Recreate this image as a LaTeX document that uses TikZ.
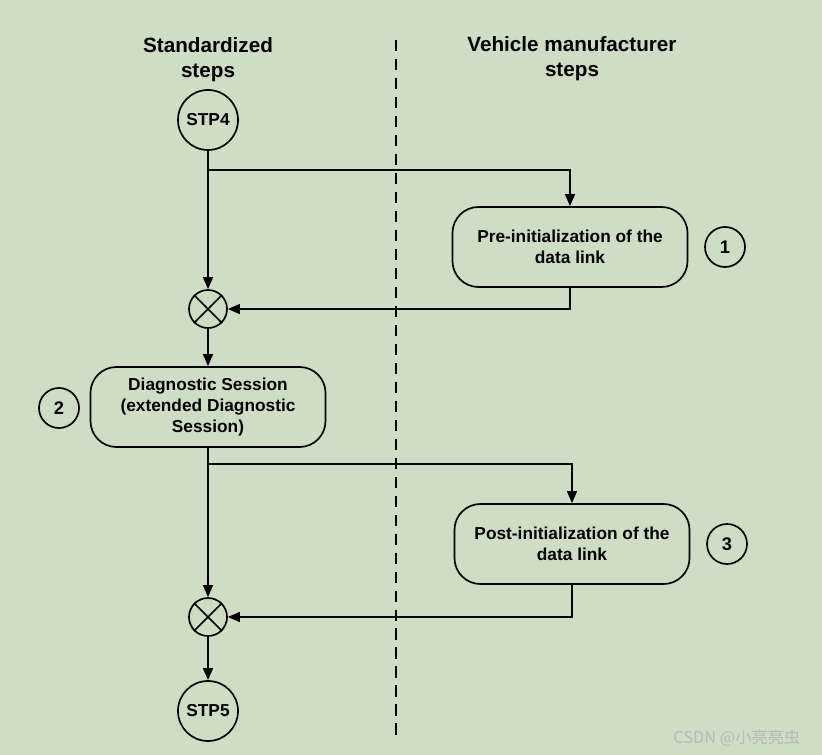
\documentclass[tikz,border=0pt]{standalone}
\usepackage{fontspec}
\setmainfont{Liberation Sans}
\newfontfamily\cjk{Noto Sans CJK SC}
\usetikzlibrary{arrows.meta}
\definecolor{bgreen}{RGB}{206,222,196}

\begin{document}
\begin{tikzpicture}[x=0.025cm, y=-0.025cm,
  line width=1.2pt,
  flow/.style={-{Triangle[length=8.5pt,width=7pt]}},
  stepbox/.style={draw, rounded corners=0.65cm, minimum width=5.875cm, minimum height=2cm,
    align=center, font=\fontsize{12.3}{15}\selectfont\bfseries},
  stpcircle/.style={draw, circle, minimum size=1.5cm, inner sep=0pt,
    font=\fontsize{12.3}{15}\selectfont\bfseries},
  numcircle/.style={draw, circle, minimum size=1cm, inner sep=0pt,
    font=\fontsize{13}{15}\selectfont\bfseries},
  merge/.style={draw, circle, minimum size=0.95cm, inner sep=0pt},
  heading/.style={align=center, inner sep=0pt, font=\fontsize{14.7}{17.8}\selectfont\bfseries}]
\useasboundingbox (0,0) rectangle (822,755);
\fill [bgreen] (0,0) rectangle (822,755);
% separator between the two columns
\draw [dash pattern=on 8pt off 5.5pt] (396,40) -- (396,735);
\node [heading] (headstd) at (208,60) {Standardized\\steps};
\node [heading] (headveh) at (572,59) {Vehicle manufacturer\\steps};
% steps
\node [stpcircle] (stp4) at (208,120) {STP4};
\node [stepbox] (pre) at (570,247) {Pre-initialization of the\\data link};
\node [numcircle] (n1) at (725,247) {1};
\node [merge] (merge1) at (208,309) {};
\node [stepbox] (diag) at (208,407) {Diagnostic Session\\(extended Diagnostic\\Session)};
\node [numcircle] (n2) at (59,408) {2};
\node [stepbox] (post) at (572,544) {Post-initialization of the\\data link};
\node [numcircle] (n3) at (727,544) {3};
\node [merge] (merge2) at (208,617) {};
\node [stpcircle] (stp5) at (208,711) {STP5};
\draw (merge1.north east) -- (merge1.south west);
\draw (merge1.north west) -- (merge1.south east);
\draw (merge2.north east) -- (merge2.south west);
\draw (merge2.north west) -- (merge2.south east);
% connectors
\coordinate (fork1) at (208,170);
\coordinate (fork2) at (208,464);
\draw [flow] (stp4) -- (merge1);
\draw [flow] (fork1) -| (pre.north);
\draw [flow] (pre.south) |- (merge1.east);
\draw [flow] (merge1) -- (diag);
\draw [flow] (fork2) -| (post.north);
\draw [flow] (diag) -- (merge2);
\draw [flow] (post.south) |- (merge2.east);
\draw [flow] (merge2) -- (stp5);
\node [text=gray!55, font=\cjk\fontsize{11.6}{13}\selectfont] (mark) at (737,738) {CSDN @小亮亮虫};
\end{tikzpicture}
\end{document}
